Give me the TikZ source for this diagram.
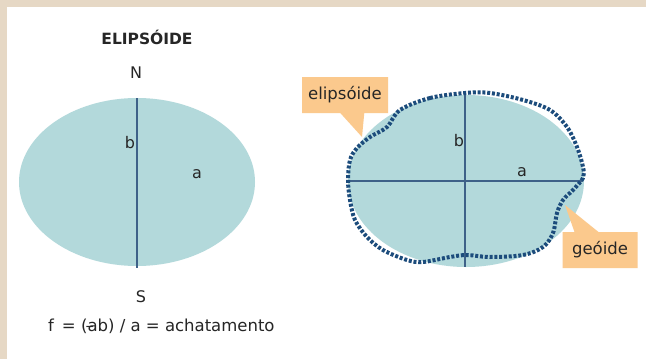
\documentclass[tikz,border=0pt]{standalone}
\usepackage{fontspec}
\setmainfont{DejaVu Sans}
\usetikzlibrary{positioning,shapes.callouts}
\definecolor{framebeige}{HTML}{E6D8C5}
\definecolor{seafill}{HTML}{B3D9DB}
\definecolor{axisblue}{HTML}{3E6188}
\definecolor{geoblue}{HTML}{1C4C7C}
\definecolor{tagorange}{HTML}{FBC98D}
\tikzset{
  lbl/.style={font=\fontsize{16}{16}\selectfont, text=black!85, inner sep=0pt},
  axisline/.style={draw=axisblue, line width=1.1pt},
  geoline/.style={draw=geoblue, line width=4pt, dash pattern=on 3pt off 1.8pt},
  tag/.style={rectangle callout, fill=tagorange, inner sep=0pt,
    minimum height=36pt, callout pointer width=24pt,
    font=\fontsize{16.5}{16.5}\selectfont, text=black!85}
}
\begin{document}
\begin{tikzpicture}[x=1pt,y=-1pt]
  \useasboundingbox (0,0) rectangle (646,359);
  % frame
  \fill[framebeige] (0,0) rectangle (646,359);
  \fill[white] (7,7) rectangle (646,359);

  % left: ellipsoid
  \fill[seafill] (137,182) ellipse [x radius=118, y radius=84];
  \coordinate (npole) at (137,98);
  \coordinate (spole) at (137,268);
  \draw[axisline] (npole) -- (spole);
  \node[lbl, font=\fontsize{15.5}{15.5}\selectfont\bfseries] (title) at (147,37) {ELIPSÓIDE};
  \node[lbl] (north) at (136,73) {N};
  \node[lbl] (south) at (141,297) {S};
  \node[lbl] (bleft) at (130,143) {b};
  \node[lbl] (aleft) at (197,174) {a};
  \node[lbl, anchor=west, font=\fontsize{16.5}{16.5}\selectfont] (formula) at (48,326)
    {f \,= (\rlap{\kern-2pt--}ab) / a = achatamento};

  % right: ellipsoid and geoid
  \fill[seafill] (466,181) ellipse [x radius=118, y radius=86];
  \coordinate (ntop) at (465,93);
  \coordinate (sbot) at (465,267);
  \coordinate (wend) at (347,181);
  \coordinate (eend) at (583,181);
  \draw[axisline] (ntop) -- (sbot);
  \draw[axisline] (wend) -- (eend);
  \draw[geoline] plot[smooth cycle, tension=0.55] coordinates {
    (465,93) (430,98) (400,110) (387,127) (370,137) (357,148) (350,160)
    (348,180) (350,200) (355,220) (367,237) (383,250) (407,260) (423,262)
    (450,257) (467,255) (490,257) (523,255) (543,247) (553,233) (557,213)
    (563,200) (573,190) (583,178) (583,167) (577,147) (567,127) (550,110)
    (523,100) (490,93)};
  \node[lbl] (bright) at (459,141) {b};
  \node[lbl] (aright) at (522,172) {a};

  % callouts
  \coordinate (elltip) at (362,137);
  \coordinate (geotip) at (565,205);
  \node[tag, minimum width=86pt, callout absolute pointer=(elltip)] (elltag) at (345,95) {elipsóide};
  \node[tag, minimum width=75pt, callout absolute pointer=(geotip)] (geotag) at (600,250) {geóide};
\end{tikzpicture}
\end{document}
